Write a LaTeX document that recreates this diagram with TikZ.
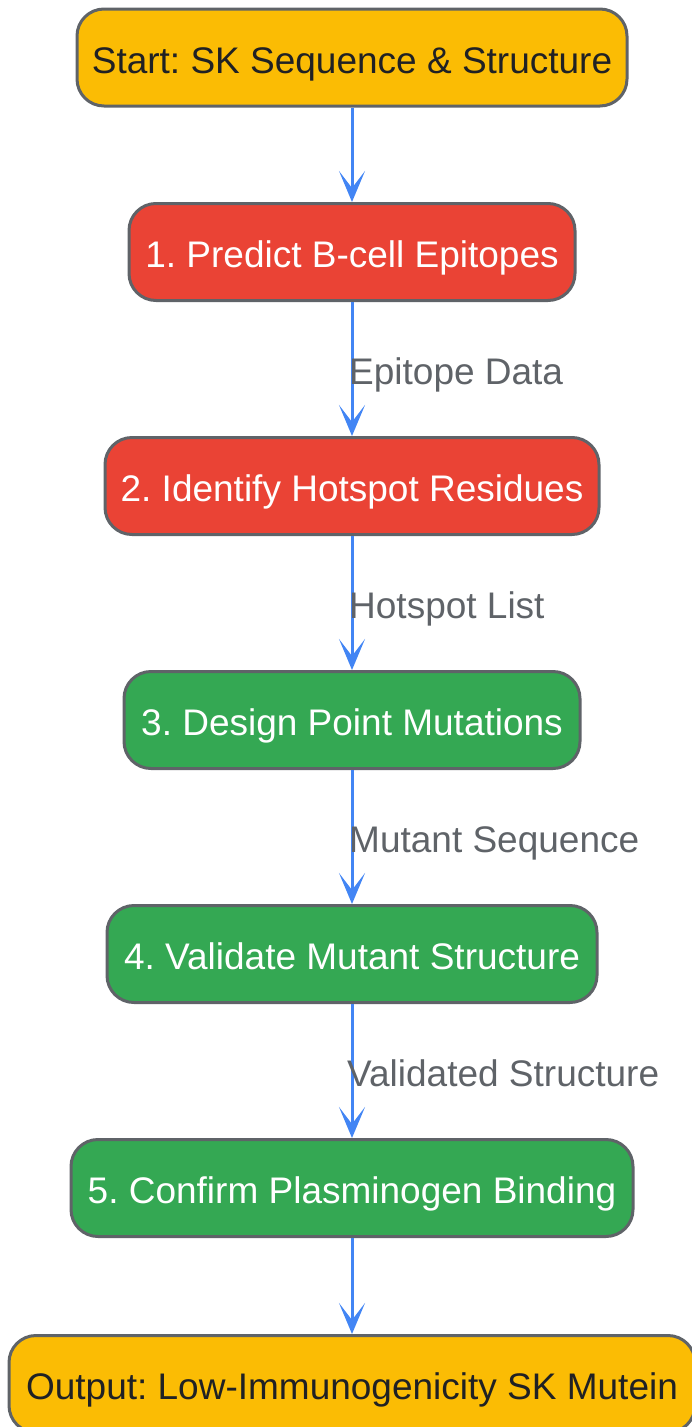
\documentclass[tikz,border=0pt]{standalone}
\usepackage{fontspec}
\setmainfont{Liberation Sans}
\usetikzlibrary{arrows.meta}
\definecolor{gyellow}{HTML}{FBBC04}
\definecolor{gred}{HTML}{EA4335}
\definecolor{ggreen}{HTML}{34A853}
\definecolor{gblue}{HTML}{4285F4}
\definecolor{ggray}{HTML}{5F6368}
\definecolor{gdark}{HTML}{202124}
\tikzset{
  box/.style={draw=ggray, line width=3pt, rounded corners=27pt, minimum height=97pt,
    inner sep=0pt, text height=31pt, text depth=0pt, font=\fontsize{37}{44}\selectfont},
  endbox/.style={box, fill=gyellow, text=gdark},
  redbox/.style={box, fill=gred, text=white},
  greenbox/.style={box, fill=ggreen, text=white},
  lbl/.style={anchor=base west, inner sep=0pt, text=ggray, font=\fontsize{37}{44}\selectfont},
  conn/.style={draw=gblue, line width=3pt, -{Stealth[length=31pt,width=26pt,inset=17pt]}},
}
\begin{document}
\frenchspacing
\begin{tikzpicture}[x=1pt,y=-1pt]
\useasboundingbox (0,0) rectangle (692,1427);
\begin{scope}
\clip (0,0) rectangle (692,1427);
\node[endbox, minimum width=550pt] (s) at (352,57.5) {Start: SK Sequence \& Structure};
\node[redbox, minimum width=446pt] (a) at (352,252) {1. Predict B-cell Epitopes};
\node[redbox, minimum width=494pt] (b) at (352,486) {2. Identify Hotspot Residues};
\node[greenbox, minimum width=456pt] (c) at (352,720) {3. Design Point Mutations};
\node[greenbox, minimum width=490pt] (d) at (352,954) {4. Validate Mutant Structure};
\node[greenbox, minimum width=562pt] (e) at (352,1188) {5. Confirm Plasminogen Binding};
\node[endbox, minimum width=686pt] (o) at (352,1384) {Output: Low-Immunogenicity SK Mutein};
\draw[conn] (s.south) -- (a.north);
\draw[conn] (a.south) -- (b.north);
\draw[conn] (b.south) -- (c.north);
\draw[conn] (c.south) -- (d.north);
\draw[conn] (d.south) -- (e.north);
\draw[conn] (e.south) -- (o.north);
\node[lbl] (la) at (349,384) {Epitope Data};
\node[lbl] (lb) at (349,618) {Hotspot List};
\node[lbl] (lc) at (349,852) {Mutant Sequence};
\node[lbl] (ld) at (347,1086) {Validated Structure};
\end{scope}
\end{tikzpicture}
\end{document}
